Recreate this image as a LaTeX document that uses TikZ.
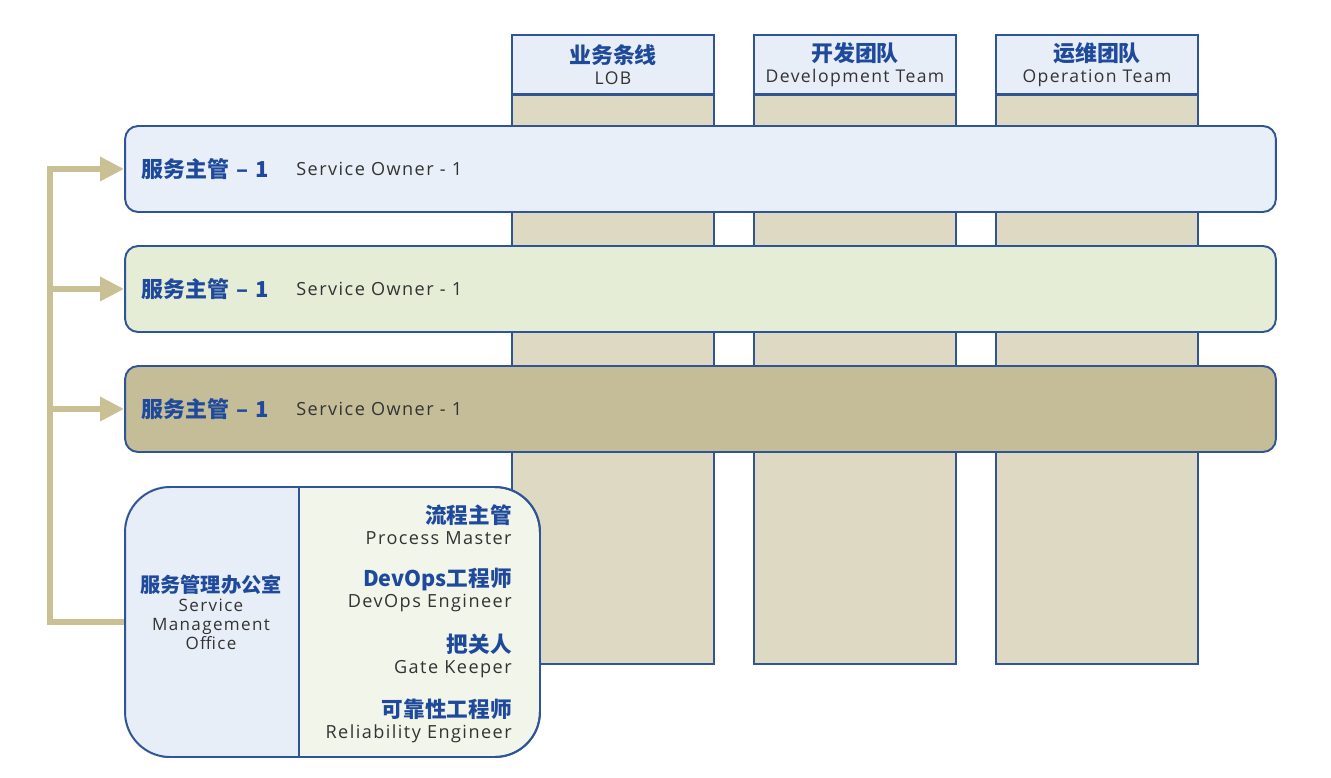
\documentclass[tikz,border=0pt]{standalone}
\usepackage{fontspec}
\setmainfont{Open Sans}[LetterSpace=8]
\newfontfamily\cjk{Noto Sans CJK SC}
\usetikzlibrary{positioning, arrows.meta}

\definecolor{frameblue}{HTML}{2F5597}
\definecolor{titleblue}{HTML}{1F4A9C}
\definecolor{txtgray}{HTML}{333333}
\definecolor{headfill}{HTML}{E8EEF7}
\definecolor{colfill}{HTML}{DDD9C3}
\definecolor{bandA}{HTML}{E9EFF8}
\definecolor{bandB}{HTML}{E6EDD7}
\definecolor{bandC}{HTML}{C4BD97}
\definecolor{smoright}{HTML}{F1F5EA}
\definecolor{feedtan}{HTML}{C9C195}

\newcommand{\zh}[1]{{\cjk\bfseries\color{titleblue}#1}}

\begin{document}
\begin{tikzpicture}[x=0.02cm, y=-0.02cm,
		colbox/.style={draw=frameblue, line width=1.1pt, fill=colfill,
			minimum width=4.04cm, minimum height=11.38cm, inner sep=0pt},
		headbox/.style={draw=frameblue, line width=1.1pt, fill=headfill,
			minimum width=4.04cm, minimum height=1.18cm, inner sep=0pt,
			align=center, font=\fontsize{10}{12}\selectfont, text=txtgray},
		band/.style={draw=frameblue, line width=1.1pt, rounded corners=0.26cm,
			minimum width=23.02cm, minimum height=1.72cm, inner sep=0pt},
		smobox/.style={draw=frameblue, line width=1.1pt, rounded corners=0.9cm,
			minimum width=8.3cm, minimum height=5.4cm, inner sep=0pt},
		zhtext/.style={font=\fontsize{12.5}{14}\selectfont, inner sep=0pt},
		entext/.style={font=\fontsize{10.3}{12}\selectfont, text=txtgray, inner sep=0pt},
		role/.style={align=right, anchor=east, inner sep=0pt, text=txtgray,
			font=\fontsize{10.3}{13}\selectfont},
		feed/.style={draw=feedtan, line width=3.4pt,
			-{Triangle[length=0.48cm, width=0.46cm]}},
		]
		\useasboundingbox (0,0) rectangle (1331,777);
		
		% columns
		\foreach \x/\n/\zhname/\enname in {613/lob/业务条线/LOB,
			855/dev/开发团队/Development Team, 1097/ops/运维团队/Operation Team}{
			\node[colbox] (\n) at (\x,379.5) {};
			\node[headbox] (\n head) at (\x,64.5) {\zh{\fontsize{12.5}{14}\selectfont\zhname}\\[0pt]\enname};
		}
		
		% service owner bands
		\foreach \y/\f [count=\i] in {169/bandA, 289/bandB, 409/bandC}{
			\node[band, fill=\f] (band\i) at (700.5,\y) {};
			\node[zhtext, anchor=west] (owner\i) at (141,\y) {\zh{服务主管\,\,–\,\,1}};
			\node[entext, anchor=west] (owneren\i) at (296,\y) {Service Owner - 1};
		}
		
		% service management office
		\node[smobox, fill=smoright] (smo) at (332.5,622) {};
		\begin{scope}
			\clip[rounded corners=0.9cm] (smo.north west) rectangle (smo.south east);
			\fill[headfill] (smo.north west) rectangle (299,757);
		\end{scope}
		\node[smobox] at (smo) {};
		\draw[frameblue, line width=1.1pt] (299,487) -- (299,757);
		\node[align=center, inner sep=0pt, text=txtgray,
		font=\fontsize{9.7}{10.8}\selectfont] (smotext) at (211,612)
		{\zh{\fontsize{11.5}{13}\selectfont 服务管理办公室}\\Service\\Management\\Office};
		
		\foreach \y/\zhname/\enname [count=\i] in {525/流程主管/Process Master,
			590/DevOps工程师/DevOps Engineer, 656/把关人/Gate Keeper,
			721/可靠性工程师/Reliability Engineer}{
			\node[role] (role\i) at (512,\y) {\zh{\fontsize{12.3}{14}\selectfont\zhname}\\[-1pt]\enname};
		}
		
		% feedback arrows
		\coordinate (spine) at (50,622);
		\draw[feed] (smo.west) -- (spine) |- (band1.west);
		\draw[feed] (spine |- band2.west) -- (band2.west);
		\draw[feed] (spine |- band3.west) -- (band3.west);
		
	\end{tikzpicture}
\end{document}
